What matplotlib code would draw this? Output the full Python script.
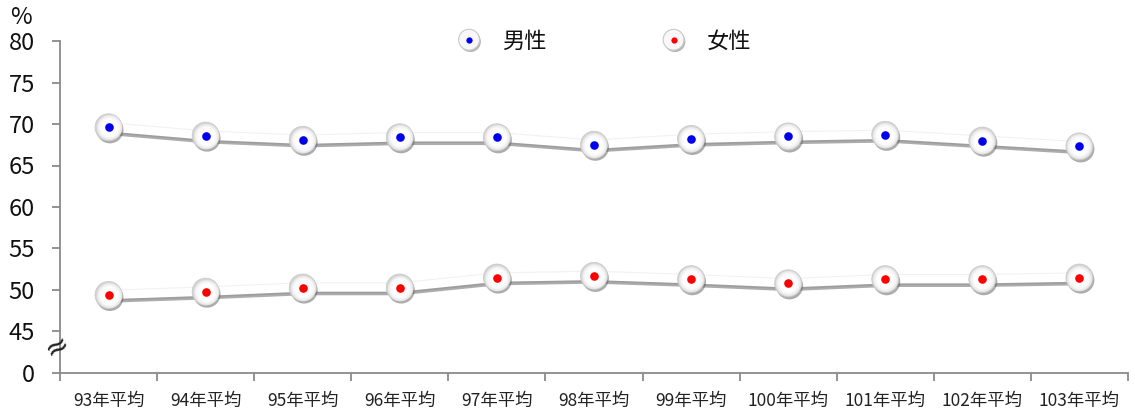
import matplotlib
matplotlib.use("Agg")
import matplotlib.pyplot as plt
import matplotlib.patheffects as pe
from matplotlib.lines import Line2D
from matplotlib.legend_handler import HandlerTuple

plt.rcParams['font.family'] = ['Noto Sans CJK TC', 'DejaVu Sans']

categories = ['93年平均', '94年平均', '95年平均', '96年平均', '97年平均', '98年平均',
              '99年平均', '100年平均', '101年平均', '102年平均', '103年平均']
male = [69.6, 68.6, 68.1, 68.4, 68.4, 67.5, 68.2, 68.5, 68.7, 68.0, 67.3]
female = [49.4, 49.8, 50.3, 50.3, 51.5, 51.7, 51.3, 50.8, 51.3, 51.3, 51.5]
series_names = ['男性', '女性']
dot_colors = ['#0000ee', '#ff0000']
ytick_vals = [40, 45, 50, 55, 60, 65, 70, 75, 80]
ytick_labels = ['0', '45', '50', '55', '60', '65', '70', '75', '80']

fig = plt.figure(figsize=(11.35, 4.12), dpi=100)
ax = fig.add_axes([60/1135, 1 - 373/412, (1128-60)/1135, (373-41)/412])

x = list(range(len(categories)))
axis_gray = '#8a8a8a'

line_fx = [pe.SimpleLineShadow(offset=(0.0, 0.8), shadow_color='#c8c8c8', alpha=0.25),
           pe.SimpleLineShadow(offset=(0.3, -1.2), shadow_color='#a8a8a8', alpha=0.5),
           pe.SimpleLineShadow(offset=(0.5, -2.6), shadow_color='#808080', alpha=0.65),
           pe.Normal()]
marker_fx = [pe.SimplePatchShadow(offset=(1.0, -1.8), shadow_rgbFace='#5a5a5a', alpha=0.5),
             pe.Normal()]

for vals, col in zip([male, female], dot_colors):
    ax.plot(x, vals, color='white', lw=6.0, solid_capstyle='round',
            path_effects=line_fx, zorder=2)
    # sphere-like marker: layered discs
    ax.plot(x, vals, ls='none', marker='o', ms=19.5, mfc='#d4d4d4', mec='#c8c8c8',
            mew=0.5, zorder=3, path_effects=marker_fx)
    for ms, c in [(18.2, '#e6e6e6'), (16.6, '#f1f1f1'), (14.6, '#fafafa'), (12.0, '#ffffff')]:
        ax.plot(x, vals, ls='none', marker='o', ms=ms, mfc=c, mec='none', zorder=4)
    ax.plot(x, vals, ls='none', marker='o', ms=6.2, mfc=col, mec='none', zorder=5)

ax.set_xlim(-0.5, len(categories) - 0.5)
ax.set_ylim(40, 80)
ax.set_yticks(ytick_vals)
ax.set_yticklabels(ytick_labels)
ax.set_xticks([i - 0.5 for i in range(len(categories) + 1)])
ax.set_xticklabels([])
ax.set_xticks(x, minor=True)
ax.set_xticklabels(categories, minor=True)

for s in ['top', 'right']:
    ax.spines[s].set_visible(False)
for s in ['left', 'bottom']:
    ax.spines[s].set_color(axis_gray)
    ax.spines[s].set_linewidth(1.3)

ax.tick_params(axis='y', which='major', length=6, width=1.3, color=axis_gray,
               labelsize=17, pad=12, labelcolor='#111111')
ax.tick_params(axis='x', which='major', length=6, width=1.3, color=axis_gray)
ax.tick_params(axis='x', which='minor', length=0, labelsize=12.5, pad=14,
               labelcolor='#222222')

# percent sign
fig.text(21/1135, 1 - 18/412, '%', fontsize=17, ha='center', va='center',
         color='#111111')

# axis break symbol
ax.text(-0.003, 43.2, '≈', transform=ax.get_yaxis_transform(), fontsize=21,
        rotation=30, ha='center', va='center', color='#222222',
        family='DejaVu Sans', zorder=6)

# legend
handles = []
for col in dot_colors:
    big = Line2D([], [], ls='none', marker='o', ms=15, mfc='#f8f8f8', mec='#c8c8c8',
                 mew=0.8, path_effects=[pe.SimplePatchShadow(offset=(1, -1.4), alpha=0.4),
                                        pe.Normal()])
    small = Line2D([], [], ls='none', marker='o', ms=4.5, mfc=col, mec='none')
    handles.append((big, small))
leg = ax.legend(handles, series_names, handler_map={tuple: HandlerTuple(ndivide=1)},
                loc='center', bbox_to_anchor=(0.51, 1.0), ncol=2, frameon=False,
                fontsize=16, handlelength=1.0, handletextpad=1.0, columnspacing=5.2)
for t in leg.get_texts():
    t.set_color('#111111')

fig.savefig('out.png', dpi=100)
